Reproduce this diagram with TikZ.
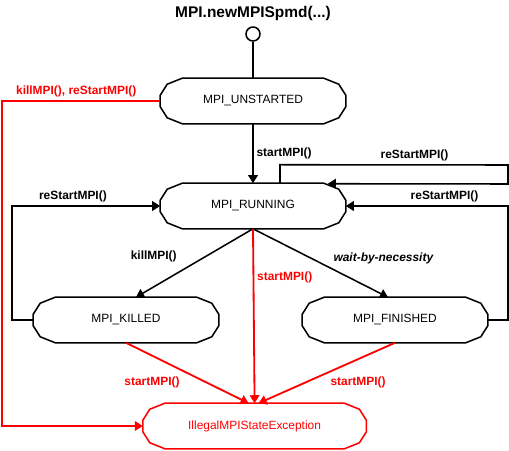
\documentclass[tikz,border=0pt]{standalone}
\usepackage{fontspec}
\setmainfont{Liberation Sans}
\usepackage{xcolor}
\definecolor{primary}{RGB}{0, 0, 0}
\definecolor{errred}{RGB}{255, 0, 0}
\usepackage{tikz}
\usetikzlibrary{arrows.meta, positioning, calc}

\begin{document}
\begin{tikzpicture}[
		state/.style={rectangle, minimum width=4.625cm, minimum height=1.125cm,
			inner sep=0pt, font=\fontsize{8.5}{10}\selectfont},
		start/.style={circle, draw=primary, line width=1.1pt, minimum size=0.35cm, inner sep=0pt},
		title/.style={font=\fontsize{11}{13}\selectfont\bfseries},
		lbl/.style={font=\fontsize{8.5}{10}\selectfont\bfseries, inner sep=2pt},
		arrow/.style={-{Triangle[length=2mm, width=2.4mm]}, line width=1.1pt, color=primary},
		errarrow/.style={-{Triangle[length=2mm, width=2.4mm]}, line width=1.3pt, color=errred}
		]
		\useasboundingbox (-6.325, 2.525) rectangle (6.4, -8.725);
		
		\node[title] (spawn) at (0, 2.2) {MPI.newMPISpmd(...)};
		\node[start] (init) at (0, 1.675) {};
		
		\node[state] (unstarted) at (0, 0) {MPI\_UNSTARTED};
		\node[state] (running) at (0, -2.625) {MPI\_RUNNING};
		\node[state] (killed) at (-3.175, -5.475) {MPI\_KILLED};
		\node[state] (finished) at (3.55, -5.475) {MPI\_FINISHED};
		\node[state, text=errred, minimum width=5.575cm] (illegal) at (0.04, -8.125)
		{IllegalMPIStateException};
		
		% faceted outlines of the states
		\foreach \n/\c in {unstarted/primary, running/primary, killed/primary,
			finished/primary, illegal/errred}
		\draw[\c, line width=1.1pt]
		($(\n.north west)+(0.55,0)$) -- ($(\n.north east)+(-0.55,0)$)
		-- ($(\n.north east)+(-0.175,-0.15)$) -- ($(\n.north east)+(0,-0.425)$)
		-- ($(\n.south east)+(0,0.425)$) -- ($(\n.south east)+(-0.175,0.15)$)
		-- ($(\n.south east)+(-0.55,0)$) -- ($(\n.south west)+(0.55,0)$)
		-- ($(\n.south west)+(0.175,0.15)$) -- ($(\n.south west)+(0,0.425)$)
		-- ($(\n.north west)+(0,-0.425)$) -- ($(\n.north west)+(0.175,-0.15)$)
		-- cycle;
		
		\draw[line width=1.1pt, primary] (init.south) -- (unstarted.north);
		
		\draw[arrow] (unstarted.south) -- (running.north)
		node[midway, right, lbl] {startMPI()};
		
		\draw[arrow] ($(running.north)+(0.675,0)$) -- ++(0, 0.4625)
		-- node[above, pos=0.59, lbl] {reStartMPI()} (6.375, -1.6)
		-- (6.375, -2.075) -- ($(running.north east)+(-0.45,-0.0125)$);
		
		\draw[arrow] (killed.west) -- ++(-0.525, 0)
		|- node[above, pos=0.705, lbl] {reStartMPI()} (running.west);
		\draw[arrow] (finished.east) -- ++(0.5, 0)
		|- node[above, pos=0.695, lbl] {reStartMPI()} (running.east);
		
		\draw[arrow] (running.south) -- node[pos=0.4, left=0.65cm, lbl] {killMPI()}
		($(killed.north)+(0.25,0)$);
		\draw[arrow] (running.south) -- node[pos=0.57, above right, lbl]
		{\itshape wait-by-necessity} ($(finished.north)+(-0.175,0)$);
		
		\draw[errarrow] (running.south) -- (illegal.north)
		node[pos=0.28, right, lbl] {startMPI()};
		\draw[errarrow] (killed.south) -- node[midway, below left, xshift=-0.1cm, lbl] {startMPI()}
		($(illegal.north)+(-0.15,0)$);
		\draw[errarrow] (finished.south) -- node[midway, below right, lbl] {startMPI()}
		($(illegal.north)+(0.1,0)$);
		\draw[errarrow] (unstarted.west) -- node[pos=0.53, above, lbl] {killMPI(), reStartMPI()}
		++(-3.9625, 0) |- (illegal.west);
	\end{tikzpicture}
\end{document}
